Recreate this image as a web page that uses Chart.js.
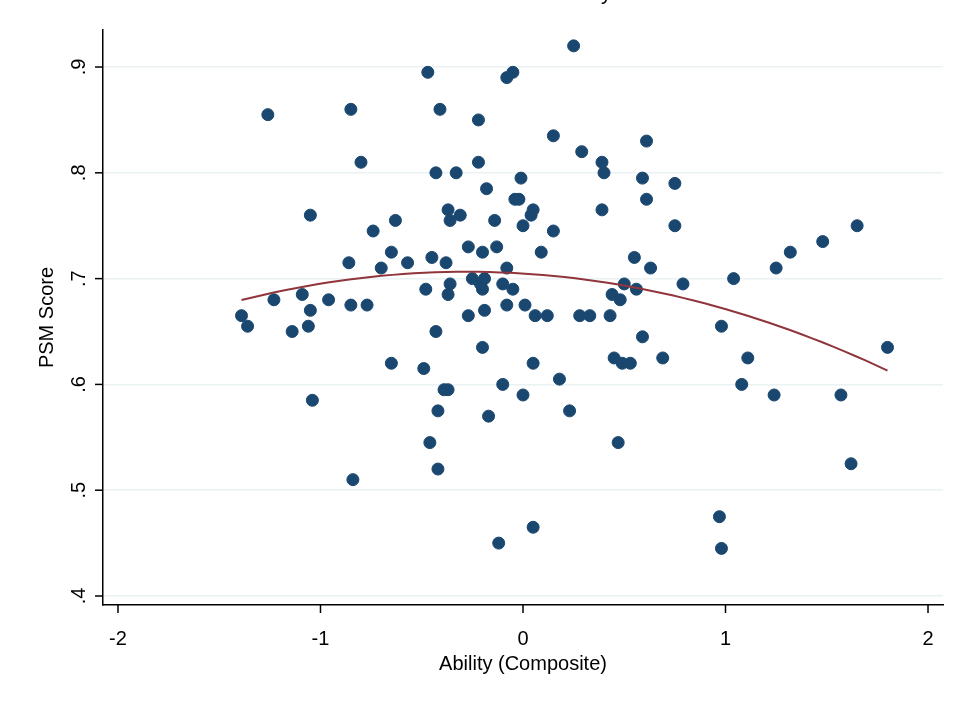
<!DOCTYPE html>
<html>
<head>
<meta charset="utf-8">
<script src="https://cdn.jsdelivr.net/npm/chart.js@4"></script>
<style>
  body { margin: 0; background: #fff; overflow: hidden; }
  #wrap { position: relative; width: 955px; height: 702px; }
  #titulo { position: absolute; top: -19px; left: 0; width: 978px; text-align: center;
            font: 21px "Liberation Sans", Arial, sans-serif; color: #000; }
</style>
</head>
<body>
<div id="wrap">
  <canvas id="scatterPSM" width="955" height="702"></canvas>
  <div id="titulo">Public Service Motivation Survey Score</div>
</div>
<script>
// Ability (Composite)
var ability = [-1.39,-1.36,-1.26,-1.23,-1.14,-1.09,-1.06,-1.05,-1.05,-1.04,-0.96,-0.86,-0.85,-0.85,-0.84,-0.80,-0.77,-0.74,-0.70,-0.65,
  -0.65,-0.63,-0.57,-0.49,-0.48,-0.47,-0.46,-0.45,-0.43,-0.43,-0.42,-0.42,-0.41,-0.39,-0.38,-0.37,-0.37,-0.37,-0.36,-0.36,
  -0.33,-0.31,-0.27,-0.27,-0.25,-0.22,-0.22,-0.21,-0.20,-0.20,-0.20,-0.19,-0.19,-0.18,-0.17,-0.14,-0.13,-0.12,-0.10,-0.10,
  -0.08,-0.08,-0.08,-0.05,-0.05,-0.04,-0.02,-0.01,0.00,0.00,0.01,0.04,0.05,0.05,0.05,0.06,0.09,0.12,0.15,0.15,
  0.18,0.23,0.25,0.28,0.29,0.33,0.40,0.39,0.39,0.43,0.44,0.45,0.47,0.48,0.49,0.50,0.53,0.55,0.56,0.59,
  0.59,0.61,0.61,0.63,0.69,0.75,0.75,0.79,0.97,0.98,0.98,1.04,1.08,1.11,1.24,1.25,1.32,1.48,1.57,1.62,1.65,1.80];
// PSM Score
var psm = [.665,.655,.855,.68,.65,.685,.655,.67,.76,.585,.68,.715,.86,.675,.51,.81,.675,.745,.71,.62,
  .725,.755,.715,.615,.69,.895,.545,.72,.65,.80,.575,.52,.86,.595,.715,.685,.765,.595,.695,.755,
  .80,.76,.665,.73,.70,.81,.85,.695,.635,.725,.69,.70,.67,.785,.57,.755,.73,.45,.695,.60,
  .89,.675,.71,.895,.69,.775,.775,.795,.59,.75,.675,.76,.765,.465,.62,.665,.725,.665,.835,.745,
  .605,.575,.92,.665,.82,.665,.80,.81,.765,.665,.685,.625,.545,.68,.62,.695,.62,.72,.69,.645,
  .795,.83,.775,.71,.625,.75,.79,.695,.475,.655,.445,.70,.60,.625,.59,.71,.725,.735,.59,.525,.75,.635];
var xTicks = [-2, -1, 0, 1, 2];
var yTicks = [.4, .5, .6, .7, .8, .9];

// Ajuste cuadrático por mínimos cuadrados (como qfit)
function ajusteCuadratico(xs, ys) {
  var s = [0,0,0,0,0], t = [0,0,0];
  for (var i = 0; i < xs.length; i++) {
    var p = 1;
    for (var k = 0; k < 5; k++) { s[k] += p; if (k < 3) t[k] += p * ys[i]; p *= xs[i]; }
  }
  var m = [[s[0],s[1],s[2],t[0]],[s[1],s[2],s[3],t[1]],[s[2],s[3],s[4],t[2]]];
  for (var c = 0; c < 3; c++) {
    for (var r = c + 1; r < 3; r++) {
      var f = m[r][c] / m[c][c];
      for (var j = c; j < 4; j++) m[r][j] -= f * m[c][j];
    }
  }
  var b = [0,0,0];
  for (var r2 = 2; r2 >= 0; r2--) {
    var v = m[r2][3];
    for (var j2 = r2 + 1; j2 < 3; j2++) v -= m[r2][j2] * b[j2];
    b[r2] = v / m[r2][r2];
  }
  return b;
}
var coef = ajusteCuadratico(ability, psm);
var xmin = Math.min.apply(null, ability), xmax = Math.max.apply(null, ability);
var curva = [];
for (var n = 0; n <= 60; n++) {
  var xv = xmin + (xmax - xmin) * n / 60;
  curva.push({ x: xv, y: coef[0] + coef[1] * xv + coef[2] * xv * xv });
}

var fuente = { family: "'Liberation Sans', Arial, sans-serif", size: 20 };

// Etiquetas del eje Y giradas hacia arriba y marcas de los ejes (estilo Stata)
var marcasEjes = {
  id: "marcasEjes",
  afterDraw: function (chart) {
    var c = chart.ctx, sx = chart.scales.x, sy = chart.scales.y;
    c.save();
    c.strokeStyle = "#000"; c.lineWidth = 1.5; c.fillStyle = "#000";
    c.font = "20px 'Liberation Sans', Arial, sans-serif";
    yTicks.forEach(function (v) {
      var py = sy.getPixelForValue(v);
      c.beginPath(); c.moveTo(sx.left - 8, py); c.lineTo(sx.left, py); c.stroke();
      c.save(); c.translate(sx.left - 14, py); c.rotate(-Math.PI / 2);
      c.textAlign = "center"; c.textBaseline = "bottom";
      c.fillText(String(v).replace(/^0/, ""), 0, 0);
      c.restore();
    });
    xTicks.forEach(function (v) {
      var px = sx.getPixelForValue(v);
      c.beginPath(); c.moveTo(px, sy.bottom); c.lineTo(px, sy.bottom + 8); c.stroke();
    });
    c.restore();
  }
};

var ctx = document.getElementById("scatterPSM").getContext("2d");
new Chart(ctx, {
  type: "scatter",
  data: {
    datasets: [
      { label: "PSM", data: ability.map(function (x, i) { return { x: x, y: psm[i] }; }),
        backgroundColor: "#1a476f", borderColor: "#1a476f", pointRadius: 6, order: 2 },
      { label: "Fit", type: "line", data: curva, borderColor: "#90353b", borderWidth: 2,
        pointRadius: 0, fill: false, tension: 0, order: 1 }
    ]
  },
  options: {
    responsive: false, animation: false,
    layout: { padding: { top: 30, right: 12, left: 35, bottom: 26 } },
    plugins: { legend: { display: false }, tooltip: { enabled: false } },
    scales: {
      x: {
        type: "linear", min: -2.074, max: 2.074,
        afterBuildTicks: function (a) { a.ticks = xTicks.map(function (v) { return { value: v }; }); },
        afterFit: function (a) { a.height = 71; },
        grid: { display: false },
        border: { color: "#000", width: 1.5 },
        ticks: { color: "#000", font: fuente, maxRotation: 0, padding: 14 },
        title: { display: true, text: "Ability (Composite)", color: "#000", font: fuente, padding: 0 }
      },
      y: {
        min: 0.3915, max: 0.935,
        afterBuildTicks: function (a) { a.ticks = yTicks.map(function (v) { return { value: v }; }); },
        afterFit: function (a) { a.width = 68; },
        grid: { color: "#eaf2f3", lineWidth: 1.5, drawTicks: false },
        border: { color: "#000", width: 1.5 },
        ticks: { display: false },
        title: { display: true, text: "PSM Score", color: "#000", font: fuente, padding: 0 }
      }
    }
  },
  plugins: [marcasEjes]
});
</script>
</body>
</html>
